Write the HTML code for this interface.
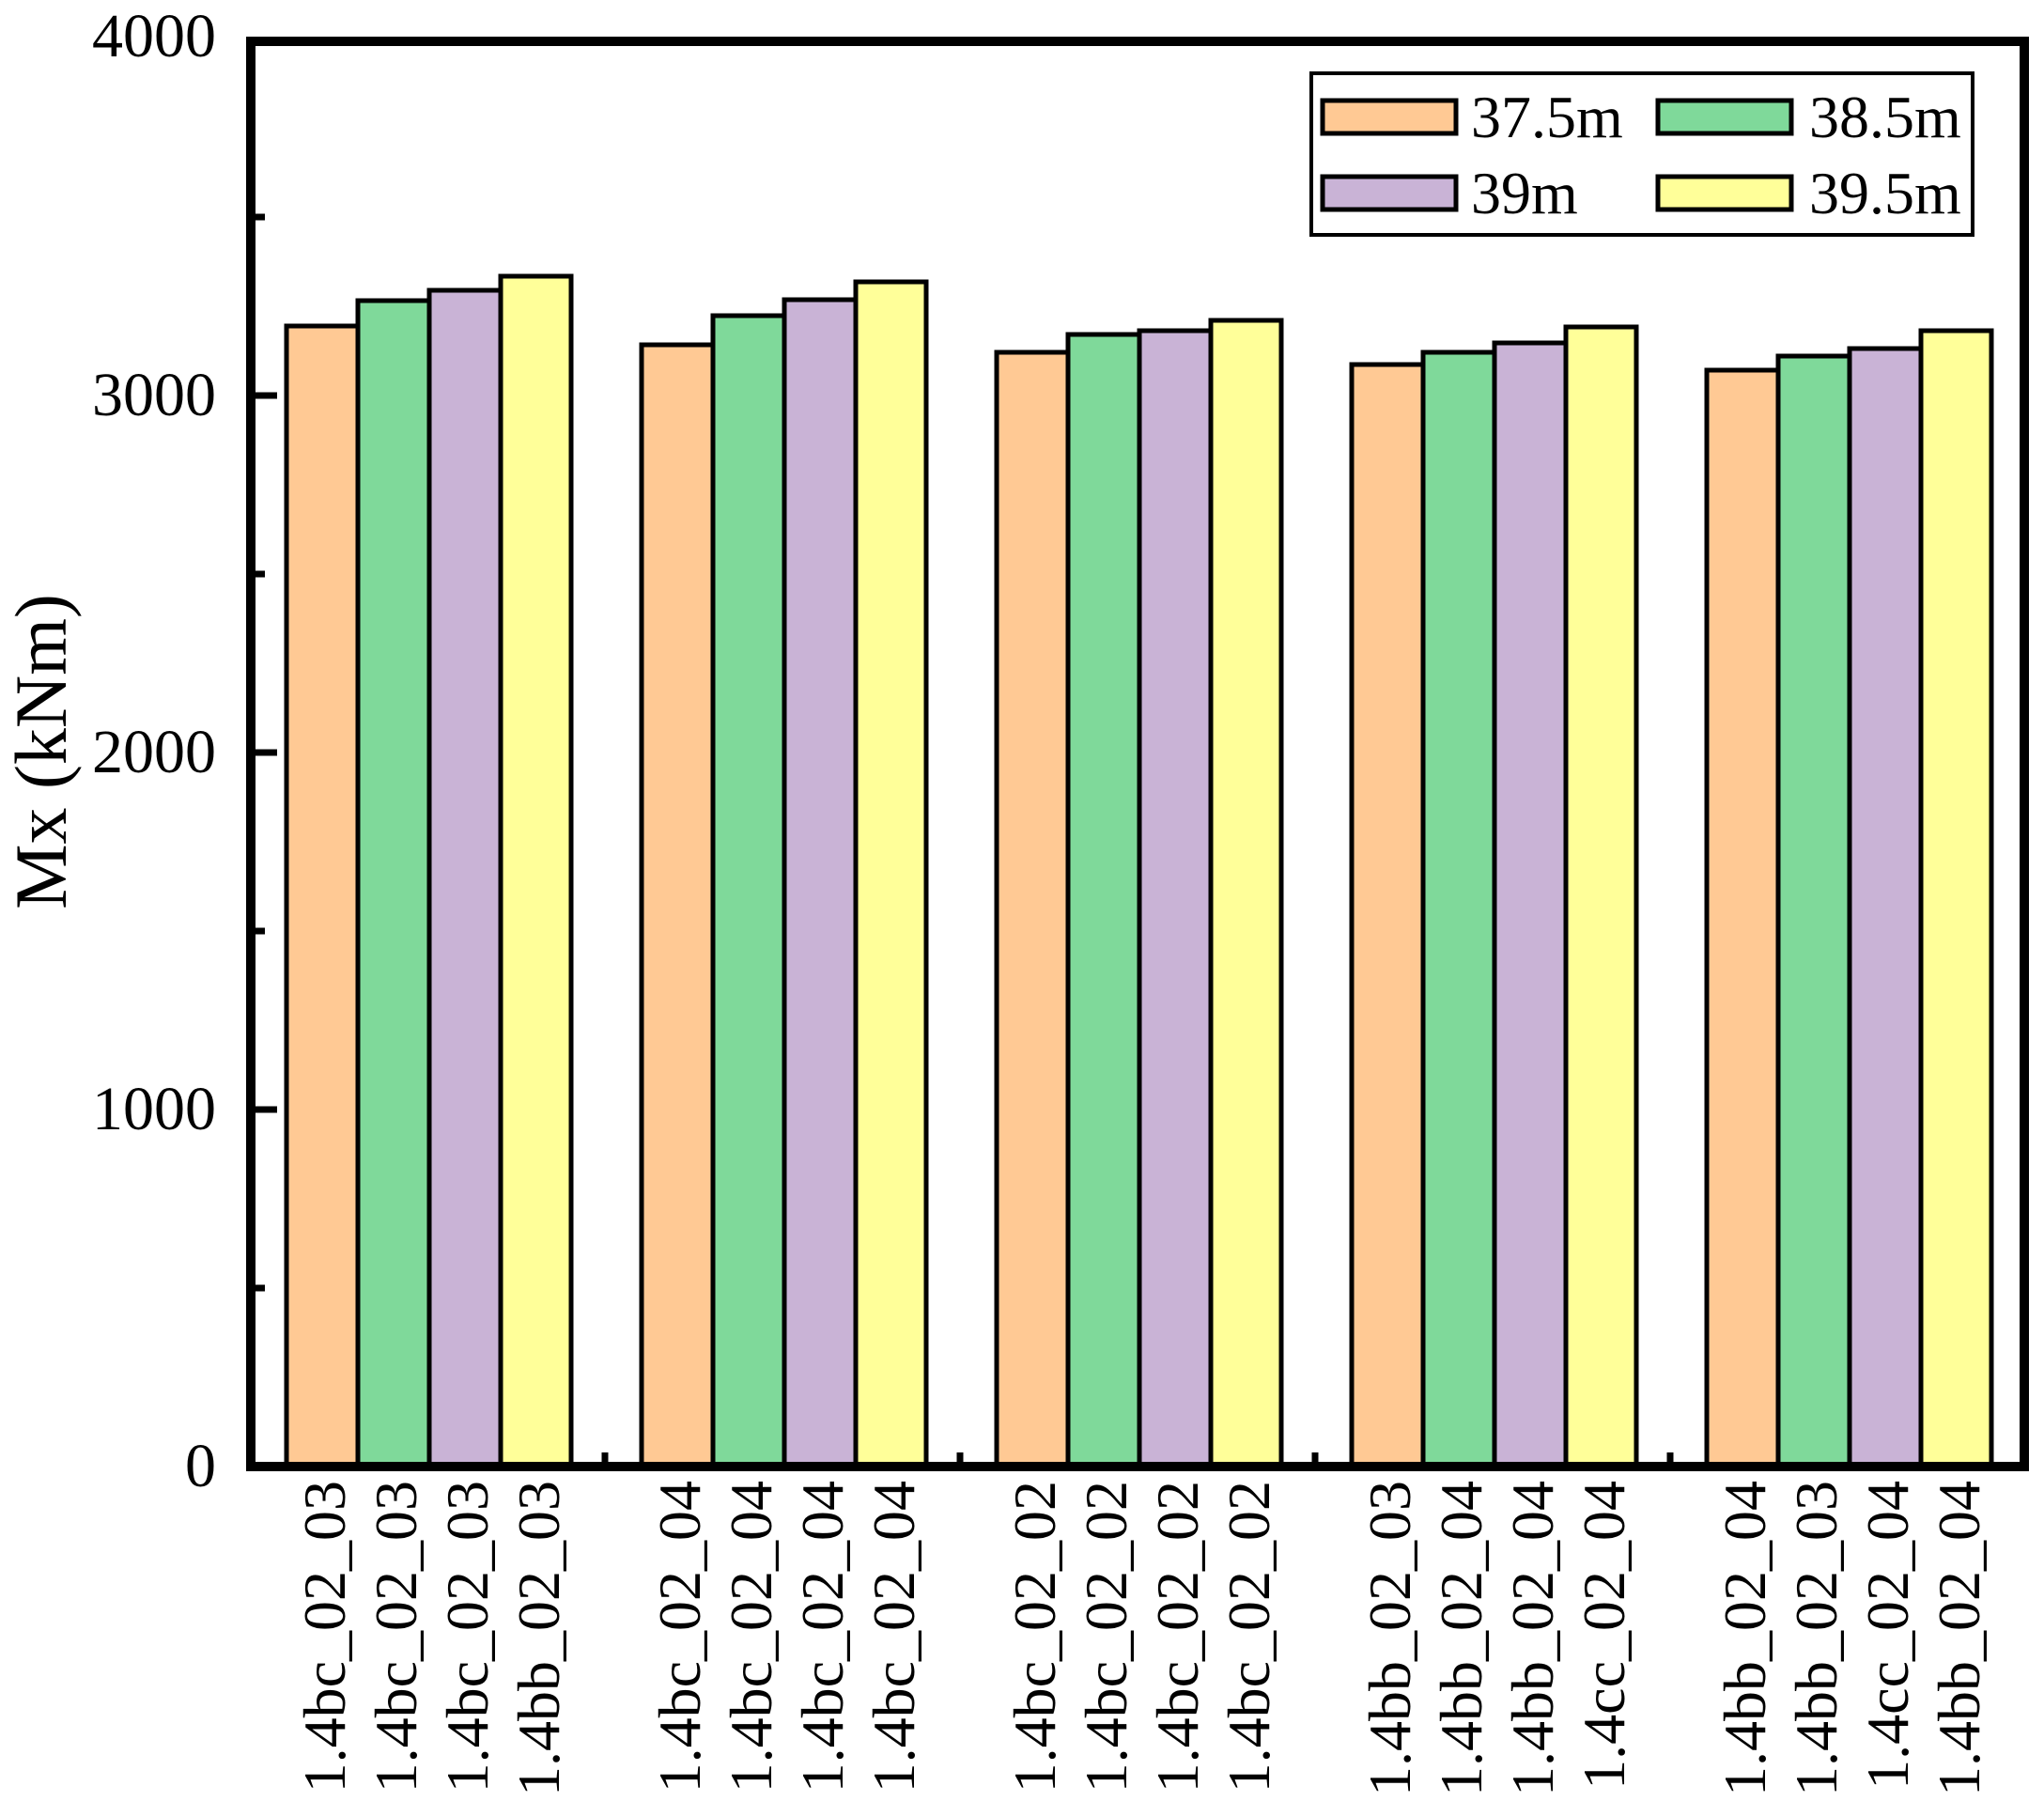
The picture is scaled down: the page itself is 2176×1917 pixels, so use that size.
<!DOCTYPE html>
<html><head><meta charset="utf-8"><style>html,body{margin:0;padding:0;background:#fff;}svg{display:block;}</style></head>
<body>
<svg width="2176" height="1917" viewBox="0 0 2176 1917" xmlns="http://www.w3.org/2000/svg" font-family="Liberation Serif, serif">
<rect width="2176" height="1917" fill="#fff"/>
<g stroke="#000" stroke-width="5">
<rect x="305" y="347" width="76" height="1214" fill="#FFC994"/>
<rect x="381" y="320" width="76" height="1241" fill="#7FD99A"/>
<rect x="457" y="309" width="76" height="1252" fill="#C9B3D6"/>
<rect x="533" y="294" width="75" height="1267" fill="#FFFF99"/>
<rect x="683" y="367" width="76" height="1194" fill="#FFC994"/>
<rect x="759" y="336" width="76" height="1225" fill="#7FD99A"/>
<rect x="835" y="319" width="76" height="1242" fill="#C9B3D6"/>
<rect x="911" y="300" width="75" height="1261" fill="#FFFF99"/>
<rect x="1061" y="375" width="76" height="1186" fill="#FFC994"/>
<rect x="1137" y="356" width="76" height="1205" fill="#7FD99A"/>
<rect x="1213" y="352" width="76" height="1209" fill="#C9B3D6"/>
<rect x="1289" y="341" width="75" height="1220" fill="#FFFF99"/>
<rect x="1439" y="388" width="76" height="1173" fill="#FFC994"/>
<rect x="1515" y="375" width="76" height="1186" fill="#7FD99A"/>
<rect x="1591" y="365" width="76" height="1196" fill="#C9B3D6"/>
<rect x="1667" y="348" width="75" height="1213" fill="#FFFF99"/>
<rect x="1817" y="394" width="76" height="1167" fill="#FFC994"/>
<rect x="1893" y="379" width="76" height="1182" fill="#7FD99A"/>
<rect x="1969" y="371" width="76" height="1190" fill="#C9B3D6"/>
<rect x="2045" y="352" width="75" height="1209" fill="#FFFF99"/>
</g>
<rect x="267" y="44" width="1888" height="1517" fill="none" stroke="#000" stroke-width="10"/>
<g stroke="#000" stroke-width="7">
<line x1="267" y1="421" x2="295" y2="421"/>
<line x1="267" y1="801" x2="295" y2="801"/>
<line x1="267" y1="1181" x2="295" y2="1181"/>
<line x1="267" y1="231" x2="282" y2="231"/>
<line x1="267" y1="611" x2="282" y2="611"/>
<line x1="267" y1="991" x2="282" y2="991"/>
<line x1="267" y1="1371" x2="282" y2="1371"/>
<line x1="644" y1="1561" x2="644" y2="1546"/>
<line x1="1022" y1="1561" x2="1022" y2="1546"/>
<line x1="1400" y1="1561" x2="1400" y2="1546"/>
<line x1="1778" y1="1561" x2="1778" y2="1546"/>
</g>
<g font-size="66" text-anchor="end" fill="#000">
<text x="230" y="60">4000</text>
<text x="230" y="442">3000</text>
<text x="230" y="822">2000</text>
<text x="230" y="1202">1000</text>
<text x="230" y="1582">0</text>
</g>
<text transform="translate(70,800) rotate(-90)" font-size="78" text-anchor="middle">Mx (kNm)</text>
<g font-size="64" text-anchor="end" fill="#000">
<text transform="translate(367,1576) rotate(-90)">1.4bc_02_03</text>
<text transform="translate(443,1576) rotate(-90)">1.4bc_02_03</text>
<text transform="translate(519,1576) rotate(-90)">1.4bc_02_03</text>
<text transform="translate(595,1576) rotate(-90)">1.4bb_02_03</text>
<text transform="translate(745,1576) rotate(-90)">1.4bc_02_04</text>
<text transform="translate(821,1576) rotate(-90)">1.4bc_02_04</text>
<text transform="translate(897,1576) rotate(-90)">1.4bc_02_04</text>
<text transform="translate(973,1576) rotate(-90)">1.4bc_02_04</text>
<text transform="translate(1123,1576) rotate(-90)">1.4bc_02_02</text>
<text transform="translate(1199,1576) rotate(-90)">1.4bc_02_02</text>
<text transform="translate(1275,1576) rotate(-90)">1.4bc_02_02</text>
<text transform="translate(1351,1576) rotate(-90)">1.4bc_02_02</text>
<text transform="translate(1501,1576) rotate(-90)">1.4bb_02_03</text>
<text transform="translate(1577,1576) rotate(-90)">1.4bb_02_04</text>
<text transform="translate(1653,1576) rotate(-90)">1.4bb_02_04</text>
<text transform="translate(1729,1576) rotate(-90)">1.4cc_02_04</text>
<text transform="translate(1879,1576) rotate(-90)">1.4bb_02_04</text>
<text transform="translate(1955,1576) rotate(-90)">1.4bb_02_03</text>
<text transform="translate(2031,1576) rotate(-90)">1.4cc_02_04</text>
<text transform="translate(2107,1576) rotate(-90)">1.4bb_02_04</text>
</g>
<rect x="1396" y="78" width="704" height="172" fill="#fff" stroke="#000" stroke-width="4"/>
<g stroke="#000" stroke-width="5">
<rect x="1408" y="107" width="142" height="35" fill="#FFC994"/>
<rect x="1765" y="107" width="142" height="35" fill="#7FD99A"/>
<rect x="1408" y="188" width="142" height="35" fill="#C9B3D6"/>
<rect x="1765" y="188" width="142" height="35" fill="#FFFF99"/>
</g>
<g font-size="64">
<text x="1566" y="146">37.5m</text>
<text x="1926" y="146">38.5m</text>
<text x="1566" y="227">39m</text>
<text x="1926" y="227">39.5m</text>
</g>
</svg>
</body></html>
